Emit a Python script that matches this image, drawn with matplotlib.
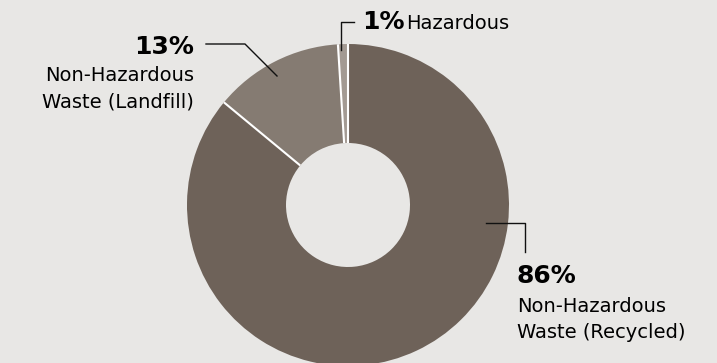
import numpy as np
import matplotlib.pyplot as plt

# waste split (percent)
labels = ['Non-Hazardous\nWaste (Recycled)', 'Non-Hazardous\nWaste (Landfill)', 'Hazardous']
shares = [86, 13, 1]
pct_text = ['86%', '13%', '1%']
colors = ['#6e6259', '#857b72', '#a39a93']

BG = '#e8e7e5'
W, H = 717, 363

fig = plt.figure(figsize=(W / 100, H / 100), dpi=100)
fig.patch.set_facecolor(BG)

# donut axes, placed in pixel terms: centre (348, 205), radius 161
cx, cy, r = 348, 205, 161
inner = 62 / 161
pie_ax = fig.add_axes([(cx - r) / W, (H - cy - r) / H, 2 * r / W, 2 * r / H])
wedges, _ = pie_ax.pie(shares, colors=colors, startangle=90, counterclock=False,
                       radius=1, wedgeprops=dict(width=1 - inner, linewidth=0))
# white separators between slices only (no outer outline)
for w in wedges:
    a = np.deg2rad(w.theta1)
    pie_ax.plot([inner * np.cos(a), np.cos(a)], [inner * np.sin(a), np.sin(a)],
                color='white', lw=1.5, solid_capstyle='butt')
pie_ax.set_xlim(-1, 1)
pie_ax.set_ylim(-1, 1)
pie_ax.set_axis_off()

# overlay axes in pixel coordinates for labels / leader lines
ax = fig.add_axes([0, 0, 1, 1])
ax.set_xlim(0, W)
ax.set_ylim(H, 0)
ax.set_axis_off()
ax.patch.set_alpha(0)

font = 'DejaVu Sans'
lc = '#111111'
big, small = 18, 14

# 86% recycled
ax.plot([486, 525, 525], [223, 223, 252], color=lc, lw=1)
ax.text(516, 283, pct_text[0], fontsize=big, fontweight='bold', family=font, va='baseline', ha='left')
ax.text(517, 312, labels[0].split('\n')[0], fontsize=small, family=font, va='baseline', ha='left')
ax.text(517, 338, labels[0].split('\n')[1], fontsize=small, family=font, va='baseline', ha='left')

# 13% landfill
ax.plot([206, 245, 277], [44, 44, 76], color=lc, lw=1)
ax.text(194, 54, pct_text[1], fontsize=big, fontweight='bold', family=font, va='baseline', ha='right')
ax.text(194, 81, labels[1].split('\n')[0], fontsize=small, family=font, va='baseline', ha='right')
ax.text(194, 107, labels[1].split('\n')[1], fontsize=small, family=font, va='baseline', ha='right')

# 1% hazardous
ax.plot([341, 341, 354], [50, 22, 22], color=lc, lw=1)
ax.text(362, 29, pct_text[2], fontsize=big, fontweight='bold', family=font, va='baseline', ha='left')
ax.text(406, 29, labels[2], fontsize=small, family=font, va='baseline', ha='left')

fig.savefig('out.png', dpi=100, facecolor=BG)
